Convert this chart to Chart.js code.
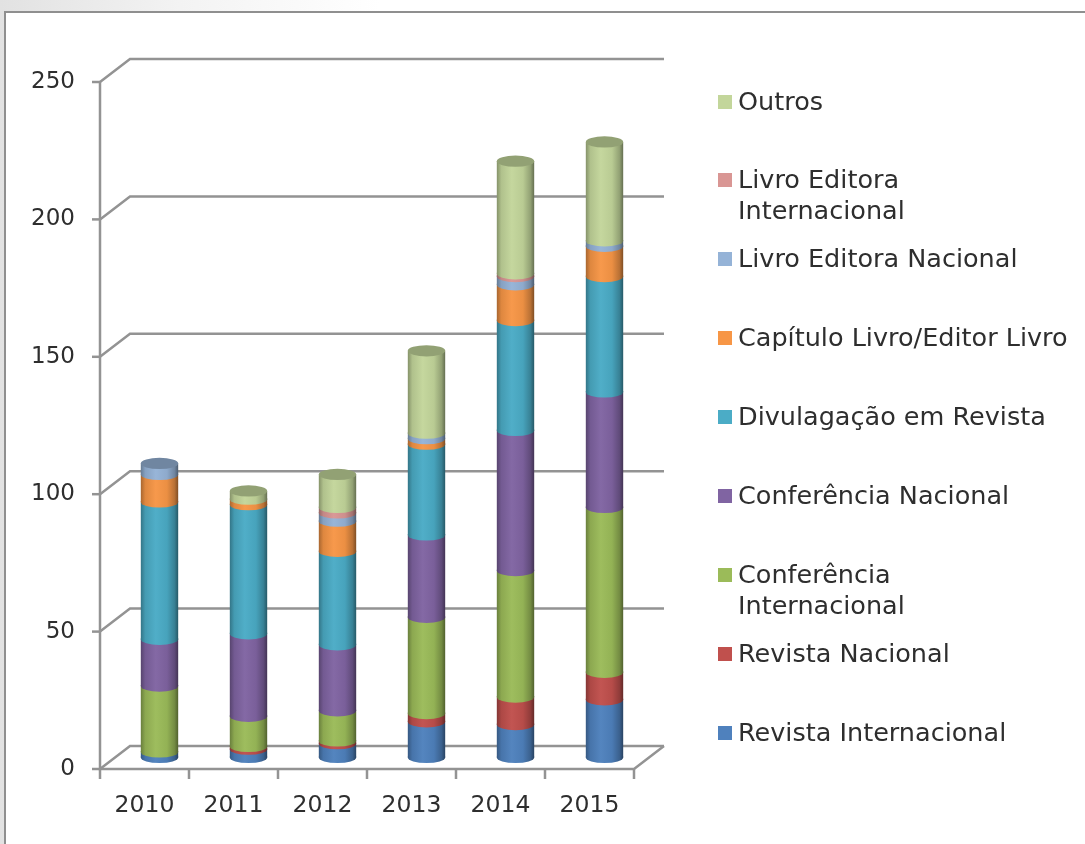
<!DOCTYPE html>
<html>
<head>
<meta charset="utf-8">
<script src="https://cdn.jsdelivr.net/npm/chart.js@4.4.1/dist/chart.umd.min.js"></script>
<style>
  html, body { margin: 0; padding: 0; width: 1085px; height: 844px; overflow: hidden; }
  body { background: linear-gradient(90deg, #e2e2e2 0px, #f3f3f3 180px, #ffffff 380px); font-family: "DejaVu Sans", sans-serif; }
  #frame { position: absolute; left: 4px; top: 11px; width: 1100px; height: 850px; background: #fff;
           border-left: 2px solid #8f8f8f; border-top: 2px solid #8f8f8f; }
  #wrap { position: absolute; left: 0; top: 0; width: 1085px; height: 844px; }
  #legend { position: absolute; left: 0; top: 0; }
  .item { position: absolute; left: 718px; color: #2e2e2e; font-size: 25.5px; line-height: 31px; white-space: pre; }
  .item i { position: absolute; left: 0; top: 9px; width: 14px; height: 14px; }
  .item span { position: absolute; left: 20px; top: 0; }
</style>
</head>
<body>
<div id="frame"></div>
<div id="wrap"><canvas id="myChart"></canvas></div>
<div id="legend"></div>
<script>
// DATA
const years = ["2010", "2011", "2012", "2013", "2014", "2015"];
const yTicks = [0, 50, 100, 150, 200, 250];

const revistaInternacional = [2, 3, 5, 13, 12, 21];
const revistaNacional = [0, 1, 1, 3, 10, 10];
const conferenciaInternacional = [24, 11, 11, 35, 46, 60];
const conferenciaNacional = [17, 30, 24, 30, 51, 42];
const divulgacaoRevista = [50, 47, 34, 33, 40, 42];
const capituloLivro = [10, 2, 11, 2, 13, 11];
const livroEditoraNacional = [4, 0, 3, 2, 3, 2];
const livroEditoraInternacional = [0, 0, 2, 0, 1, 0];
const outros = [0, 3, 12, 30, 41, 36];

const seriesNames = [
  "Revista Internacional", "Revista Nacional", "Conferência Internacional",
  "Conferência Nacional", "Divulagação em Revista", "Capítulo Livro/Editor Livro",
  "Livro Editora Nacional", "Livro Editora Internacional", "Outros"
];
const seriesValues = [
  revistaInternacional, revistaNacional, conferenciaInternacional,
  conferenciaNacional, divulgacaoRevista, capituloLivro,
  livroEditoraNacional, livroEditoraInternacional, outros
];
const colors = ["#4F81BD", "#C0504D", "#9BBB59", "#8064A2", "#4BACC6", "#F79646", "#95B3D7", "#D99694", "#C3D69B"];

// 3D look
const depth = { x: 15, y: 11.5 };
const barPct = 0.42;

function shade(hex, f) {
  const n = parseInt(hex.slice(1), 16);
  let r = n >> 16, g = (n >> 8) & 255, b = n & 255;
  const t = f < 0 ? 0 : 255, p = Math.abs(f);
  r = Math.round(r + (t - r) * p);
  g = Math.round(g + (t - g) * p);
  b = Math.round(b + (t - b) * p);
  return `rgb(${r},${g},${b})`;
}

function cylFill(ctx, color, cx, w) {
  const g = ctx.createLinearGradient(cx - w / 2, 0, cx + w / 2, 0);
  g.addColorStop(0, shade(color, -0.32));
  g.addColorStop(0.12, shade(color, -0.1));
  g.addColorStop(0.4, shade(color, 0.03));
  g.addColorStop(0.7, shade(color, -0.05));
  g.addColorStop(0.9, shade(color, -0.25));
  g.addColorStop(1, shade(color, -0.48));
  return g;
}

const frame3d = {
  id: "frame3d",
  beforeDatasetsDraw(chart) {
    const { ctx, chartArea: a, scales: { x, y } } = chart;
    ctx.save();
    ctx.strokeStyle = "#939393";
    ctx.lineWidth = 2.5;
    y.ticks.forEach((t) => {
      const py = y.getPixelForValue(t.value);
      ctx.beginPath();
      ctx.moveTo(a.left - depth.x, py + depth.y);
      ctx.lineTo(a.left + depth.x, py - depth.y);
      ctx.lineTo(a.right + depth.x, py - depth.y);
      ctx.stroke();
      ctx.beginPath();
      ctx.moveTo(a.left - depth.x - 8, py + depth.y);
      ctx.lineTo(a.left - depth.x, py + depth.y);
      ctx.stroke();
    });
    ctx.beginPath();
    ctx.moveTo(a.left - depth.x, a.top + depth.y);
    ctx.lineTo(a.left - depth.x, a.bottom + depth.y);
    ctx.lineTo(a.right - depth.x, a.bottom + depth.y);
    ctx.lineTo(a.right + depth.x, a.bottom - depth.y);
    ctx.stroke();
    for (let i = 0; i <= years.length; i++) {
      const px = x.getPixelForValue(i - 0.5) - depth.x;
      ctx.beginPath();
      ctx.moveTo(px, a.bottom + depth.y);
      ctx.lineTo(px, a.bottom + depth.y + 10);
      ctx.stroke();
    }
    ctx.restore();
  }
};

const cylinders = {
  id: "cylinders",
  afterDatasetsDraw(chart) {
    const ctx = chart.ctx;
    const tops = [];
    chart.data.datasets.forEach((ds, di) => {
      const meta = chart.getDatasetMeta(di);
      meta.data.forEach((bar, i) => {
        if (!ds.data[i]) return;
        const rx = bar.width / 2;
        ctx.save();
        ctx.fillStyle = cylFill(ctx, colors[di], bar.x, bar.width);
        ctx.beginPath();
        // bottom edge of the segment, one pixel up to hide seams
        ctx.moveTo(bar.x - rx, bar.base - 1);
        ctx.lineTo(bar.x + rx, bar.base - 1);
        ctx.ellipse(bar.x, bar.base, rx, rx * 0.3, 0, 0, Math.PI);
        ctx.closePath();
        ctx.fill();
        ctx.restore();
        tops[i] = { bar, color: colors[di] };
      });
    });
    tops.forEach(({ bar, color }) => {
      const rx = bar.width / 2;
      ctx.save();
      ctx.fillStyle = shade(color, -0.25);
      ctx.beginPath();
      ctx.ellipse(bar.x, bar.y, rx, rx * 0.3, 0, 0, Math.PI * 2);
      ctx.fill();
      ctx.restore();
    });
  }
};

const data = {
  labels: years,
  datasets: seriesNames.map((name, di) => ({
    label: name,
    data: seriesValues[di],
    backgroundColor: (c) => {
      const ch = c.chart;
      if (!ch.chartArea || !ch.scales.x) return colors[di];
      const cx = ch.scales.x.getPixelForValue(c.dataIndex);
      const w = (ch.scales.x.width / years.length) * barPct;
      return cylFill(ch.ctx, colors[di], cx, w);
    },
    borderWidth: 0,
    barPercentage: barPct,
    categoryPercentage: 1
  }))
};

const config = {
  type: "bar",
  data: data,
  options: {
    responsive: true,
    maintainAspectRatio: false,
    animation: false,
    layout: { padding: { top: 70.5, right: 436, bottom: 0, left: 0 } },
    plugins: { legend: { display: false }, tooltip: { enabled: false } },
    scales: {
      x: {
        stacked: true,
        grid: { display: false, drawTicks: false },
        border: { display: false },
        ticks: { color: "#2e2e2e", font: { family: "DejaVu Sans", size: 23.5 }, padding: 34, labelOffset: -depth.x },
        afterFit: (s) => { s.height = 86.5; }
      },
      y: {
        stacked: true,
        min: yTicks[0],
        max: yTicks[yTicks.length - 1],
        afterBuildTicks: (s) => { s.ticks = yTicks.map((v) => ({ value: v })); },
        grid: { display: false, drawTicks: false },
        border: { display: false },
        ticks: { color: "#2e2e2e", font: { family: "DejaVu Sans", size: 23 }, padding: 40, labelOffset: depth.y },
        afterFit: (s) => { s.width = 115; }
      }
    }
  },
  plugins: [frame3d, cylinders]
};

const myChart = new Chart(document.getElementById("myChart"), config);

// legend, reversed like the original
const legendTop = 101;
const legendStep = 78.9;
const legend = document.getElementById("legend");
myChart.data.datasets.slice().reverse().forEach((ds, i) => {
  const item = document.createElement("div");
  item.className = "item";
  item.style.top = (legendTop + i * legendStep - 15.5) + "px";
  const sw = document.createElement("i");
  sw.style.background = colors[colors.length - 1 - i];
  const txt = document.createElement("span");
  // long "... Internacional" names wrap in the original
  txt.textContent = ds.label.length > 22 && ds.label.endsWith(" Internacional")
    ? ds.label.replace(/ Internacional$/, "\nInternacional")
    : ds.label;
  item.appendChild(sw);
  item.appendChild(txt);
  legend.appendChild(item);
});
</script>
</body>
</html>
